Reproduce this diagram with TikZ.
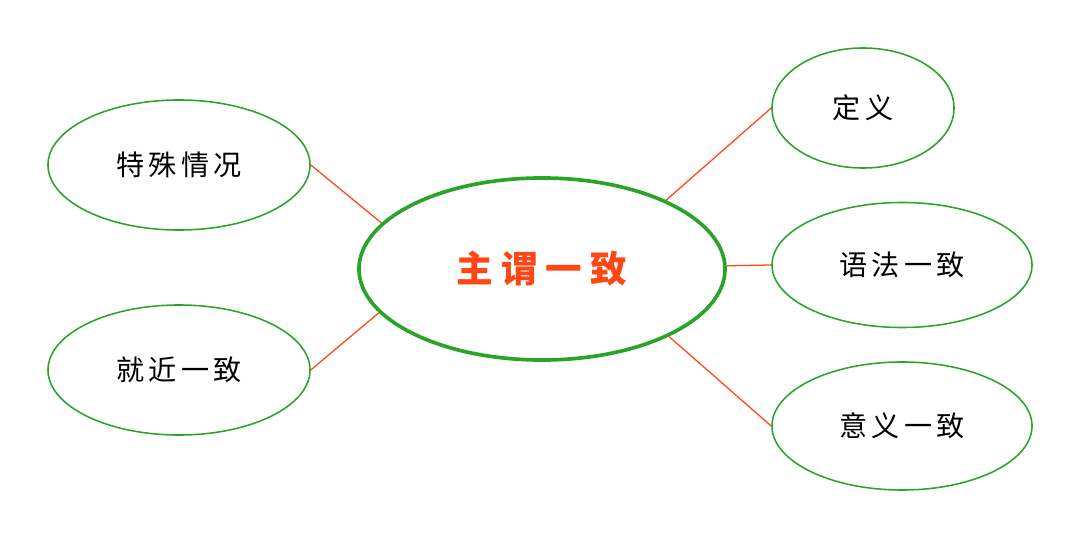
\documentclass[tikz,border=0pt]{standalone}
\usepackage{fontspec}
\newfontfamily\cjk[LetterSpace=15]{Noto Sans CJK SC}
\newfontfamily\cjkwide[LetterSpace=22]{Noto Sans CJK SC}
\usetikzlibrary{shapes.geometric}
\definecolor{ringgreen}{RGB}{40,165,40}
\definecolor{linkred}{RGB}{255,70,20}
\tikzset{
	topic/.style={ellipse, draw=ringgreen, line width=1.1pt, inner sep=0pt, font=\cjk\fontsize{20}{22}\selectfont},
	link/.style={linkred, line width=0.9pt}
}
\begin{document}
\begin{tikzpicture}[x=0.025cm, y=-0.025cm]
		\useasboundingbox (0,0) rectangle (1080,538);
		\node[ellipse, draw=ringgreen, line width=2.6pt, minimum width=9.15cm, minimum height=4.55cm, inner sep=0pt, font=\cjkwide\fontsize{26}{28}\selectfont\bfseries, text=linkred] (core) at (542,269) {主谓一致};
		\node[topic, minimum width=6.55cm, minimum height=3.25cm] (special) at (179,165) {特殊情况};
		\node[topic, minimum width=6.55cm, minimum height=3.25cm] (near) at (179,370) {就近一致};
		\node[topic, minimum width=4.55cm, minimum height=3cm] (define) at (863,108) {定义};
		\node[topic, minimum width=6.5cm, minimum height=3.125cm] (grammar) at (902,265) {语法一致};
		\node[topic, minimum width=6.5cm, minimum height=3.2cm] (meaning) at (902,426) {意义一致};
		\draw[link] (special.east) -- (core.164);
		\draw[link] (near.east) -- (core.195);
		\draw[link] (define.west) -- (core.29);
		\draw[link] (grammar.west) -- (core.1);
		\draw[link] (meaning.west) -- (core.332);
		\end{tikzpicture}
\end{document}
